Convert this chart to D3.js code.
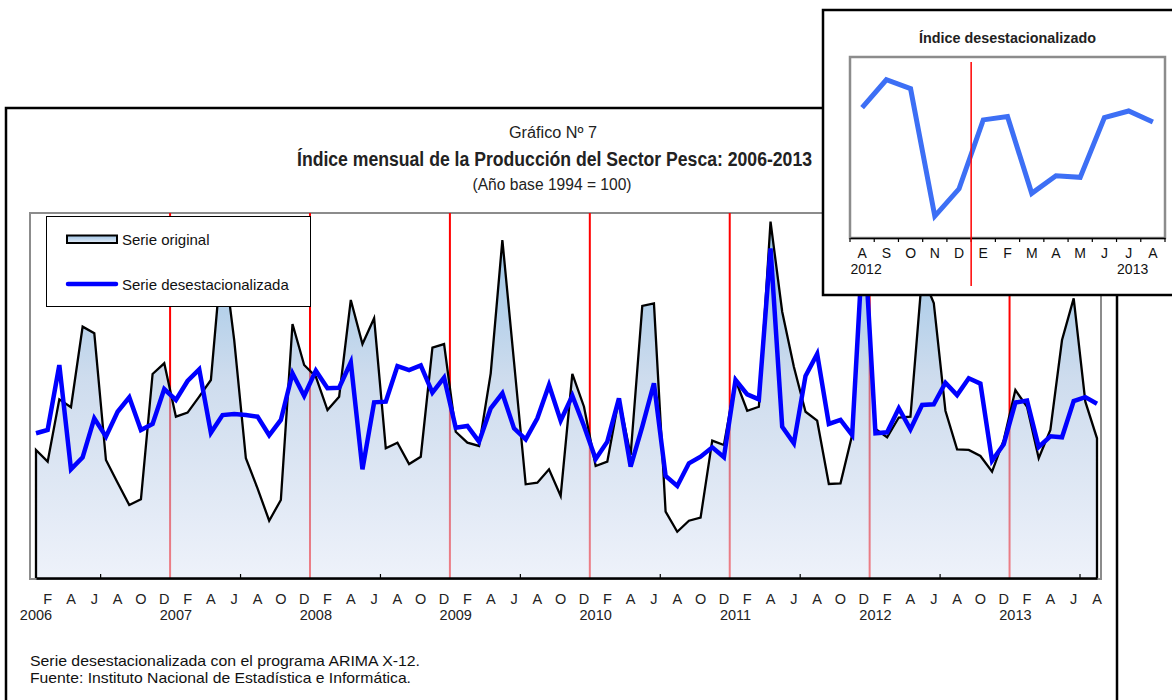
<!DOCTYPE html>
<html><head><meta charset="utf-8">
<script src="https://cdn.jsdelivr.net/npm/d3@7"></script>
<style>
html,body{margin:0;padding:0;background:#fff;}
svg{display:block;}
.narrow{font-family:"Liberation Sans Narrow","Arial Narrow","Liberation Sans",Arial,sans-serif;}
.sans{font-family:"Liberation Sans",Arial,sans-serif;}
</style>
</head><body>
<svg id="chart" width="1172" height="700"></svg>
<script>
// ---- data ----
const years = [2006, 2007, 2008, 2009, 2010, 2011, 2012, 2013];
const monthLetters = ["E","F","M","A","M","J","J","A","S","O","N","D"];
const serieOriginal = [
  140.3,127.5,195.8,187.1,275.4,268.2,129.3,104.4,80.0,86.2,223.6,235.3,
  176.8,181.2,198.7,217.0,362.7,260.8,131.2,98.3,62.8,85.5,278.4,233.4,
  220.6,184.1,198.7,304.7,256.4,284.6,142.1,148.3,124.9,132.9,252.4,256.4,
  160.3,148.3,144.7,224.3,370.4,236.7,102.7,104.4,119.1,89.9,223.6,187.7,
  122.7,127.5,196.9,134.8,298.1,301.0,72.7,50.7,62.8,66.1,150.5,145.8,
  217.0,183.3,187.7,390.5,291.8,231.6,182.2,172.4,103.0,103.8,156.7,390.0,
  163.3,154.2,175.9,176.8,332.0,301.4,183.3,141.0,140.3,133.7,116.5,151.2,
  206.0,187.7,131.2,162.2,260.8,306.5,193.2,153.1
];
const serieDesest = [
  158.6,162.2,233.4,119.1,132.3,175.0,154.9,182.2,198.0,162.2,168.8,207.1,
  195.1,215.9,228.7,159.2,178.6,179.7,178.6,176.8,156.4,173.2,224.3,199.5,
  227.2,207.9,208.5,236.4,119.1,192.5,193.2,232.3,227.9,233.1,203.1,219.5,
  164.7,166.6,149.4,186.0,202.4,164.0,152.0,175.0,211.5,172.4,199.8,166.6,
  130.4,149.4,196.9,122.0,165.8,213.4,111.8,100.8,125.7,132.9,143.2,132.3,
  217.0,201.3,195.8,361.3,165.8,147.6,221.4,245.5,168.8,173.2,156.7,383.6,
  158.6,159.7,186.0,163.0,189.6,190.4,214.0,200.4,218.9,213.0,128.5,146.6,
  192.3,194.5,143.6,155.3,154.2,193.9,198.2,190.9
];
const insetLabels = ["A","S","O","N","D","E","F","M","A","M","J","J","A"];
const insetYears = ["2012","2013"];
const insetStart = 79; // Aug 2012

// ---- main chart ----
const svg = d3.select("#chart");
const defs = svg.append("defs");
const grad = defs.append("linearGradient").attr("id","areaGrad")
  .attr("gradientUnits","userSpaceOnUse").attr("x1",0).attr("x2",0).attr("y1",213).attr("y2",578);
grad.append("stop").attr("offset","0").attr("stop-color","#3c8fd0");
grad.append("stop").attr("offset","0.45").attr("stop-color","#a5bfdf");
grad.append("stop").attr("offset","1").attr("stop-color","#e0e7f6");
const grad2 = defs.append("linearGradient").attr("id","legGrad").attr("x1",0).attr("x2",0).attr("y1",0).attr("y2",1);
grad2.append("stop").attr("offset","0").attr("stop-color","#9fc3e4");
grad2.append("stop").attr("offset","1").attr("stop-color","#e4ecf7");

// outer frame
svg.append("rect").attr("x",6).attr("y",108).attr("width",1111).attr("height",620)
  .attr("fill","#fff").attr("stroke","#000").attr("stroke-width",2.5);

// titles
svg.append("text").attr("class","narrow").attr("x",553).attr("y",138).attr("text-anchor","middle")
  .attr("font-size",16).attr("fill","#222").attr("textLength",88).attr("lengthAdjust","spacingAndGlyphs")
  .text("Gráfico Nº 7");
svg.append("text").attr("class","narrow").attr("x",554.5).attr("y",166).attr("text-anchor","middle")
  .attr("font-size",20).attr("font-weight","bold").attr("fill","#222").attr("textLength",515).attr("lengthAdjust","spacingAndGlyphs")
  .text("Índice mensual de la Producción del Sector Pesca: 2006-2013");
svg.append("text").attr("class","narrow").attr("x",552).attr("y",190).attr("text-anchor","middle")
  .attr("font-size",16).attr("fill","#222").attr("textLength",159).attr("lengthAdjust","spacingAndGlyphs")
  .text("(Año base 1994 = 100)");

const x = d3.scaleLinear().domain([0, serieOriginal.length - 1]).range([36, 1097]);
const y = d3.scaleLinear().domain([0, 400]).range([578, 213]);

// plot frame
svg.append("rect").attr("x",30).attr("y",213).attr("width",1071).attr("height",366)
  .attr("fill","#fff").attr("stroke","#8c8c8c").attr("stroke-width",2);

// red year separators (between Dec and Jan)
const sepIdx = d3.range(11.5, serieOriginal.length - 1, 12);
svg.append("g").selectAll("line").data(sepIdx).join("line")
  .attr("x1",d=>x(d)).attr("x2",d=>x(d)).attr("y1",y(400)).attr("y2",y(0))
  .attr("stroke","#ff0000").attr("stroke-width",2);

// area
const area = d3.area().x((d,i)=>x(i)).y0(y(0)).y1(d=>y(d));
svg.append("path").datum(serieOriginal).attr("d",area)
  .attr("fill","url(#areaGrad)").attr("fill-opacity",0.55);

// original outline incl. vertical edges
const outlinePts = [[0,0]].concat(serieOriginal.map((d,i)=>[i,d])).concat([[serieOriginal.length-1,0]]);
svg.append("path").datum(outlinePts)
  .attr("d", d3.line().x(d=>x(d[0])).y(d=>y(d[1])))
  .attr("fill","none").attr("stroke","#000").attr("stroke-width",2.3).attr("stroke-linejoin","miter");

// desestacionalizada
svg.append("path").datum(serieDesest)
  .attr("d", d3.line().x((d,i)=>x(i)).y(d=>y(d)))
  .attr("fill","none").attr("stroke","#0000ff").attr("stroke-width",4.5).attr("stroke-linejoin","miter");

// x axis
const xAxis = d3.axisBottom(x).tickValues(d3.range(5.5, serieOriginal.length, 12))
  .tickSize(-4).tickSizeOuter(0).tickFormat("");
const gx = svg.append("g").attr("transform",`translate(0,${y(0)})`).call(xAxis);
gx.select(".domain").attr("stroke","#000").attr("stroke-width",2.5);
gx.selectAll(".tick line").attr("stroke","#000").attr("stroke-width",1.2);

// month labels (Feb, Apr, Jun, Aug, Oct, Dec)
const monthIdx = d3.range(1, serieOriginal.length, 2);
svg.append("g").selectAll("text").data(monthIdx).join("text")
  .attr("class","narrow").attr("x",d=>x(d)).attr("y",604).attr("text-anchor","middle")
  .attr("font-size",14.5).attr("fill","#222").text(d=>monthLetters[d % 12]);
svg.append("g").selectAll("text").data(years).join("text")
  .attr("class","narrow").attr("x",(d,i)=>x(i*12)).attr("y",620).attr("text-anchor","middle")
  .attr("font-size",14.5).attr("fill","#222").text(d=>d);

// legend
const leg = svg.append("g");
leg.append("rect").attr("x",46.5).attr("y",216.5).attr("width",264).attr("height",90)
  .attr("fill","#fff").attr("stroke","#000").attr("stroke-width",1);
leg.append("rect").attr("x",67).attr("y",235.5).attr("width",50).attr("height",7.5)
  .attr("fill","url(#legGrad)").attr("stroke","#000").attr("stroke-width",2);
leg.append("text").attr("class","sans").attr("x",122).attr("y",244.5).attr("font-size",15).attr("fill","#111").text("Serie original");
leg.append("line").attr("x1",68).attr("x2",116).attr("y1",284).attr("y2",284)
  .attr("stroke","#0000ff").attr("stroke-width",4.5).attr("stroke-linecap","round");
leg.append("text").attr("class","sans").attr("x",122).attr("y",289.5).attr("font-size",15).attr("fill","#111").text("Serie desestacionalizada");

// footnotes
svg.append("text").attr("class","sans").attr("x",30).attr("y",666).attr("font-size",15).attr("fill","#111")
  .attr("textLength",390).attr("lengthAdjust","spacingAndGlyphs")
  .text("Serie desestacionalizada con el programa ARIMA X-12.");
svg.append("text").attr("class","sans").attr("x",30).attr("y",683).attr("font-size",15).attr("fill","#111")
  .attr("textLength",381).attr("lengthAdjust","spacingAndGlyphs")
  .text("Fuente: Instituto Nacional de Estadística e Informática.");

// ---- inset ----
const ins = svg.append("g");
ins.append("rect").attr("x",823).attr("y",10).attr("width",360).attr("height",285)
  .attr("fill","#fff").attr("stroke","#000").attr("stroke-width",2.5);
ins.append("text").attr("class","narrow").attr("x",1007.5).attr("y",43).attr("text-anchor","middle")
  .attr("font-size",15).attr("font-weight","bold").attr("fill","#222")
  .attr("textLength",177).attr("lengthAdjust","spacingAndGlyphs").text("Índice desestacionalizado");
const insData = serieDesest.slice(insetStart, insetStart + insetLabels.length);
const xi = d3.scaleBand().domain(d3.range(insetLabels.length)).range([850,1165]);
const yi = d3.scaleLinear().domain([114, 234]).range([238, 57]);
ins.append("rect").attr("x",850).attr("y",57).attr("width",315).attr("height",181)
  .attr("fill","#fff").attr("stroke","#8c8c8c").attr("stroke-width",2.5);
const ixAxis = d3.axisBottom(xi).tickSize(0).tickFormat("");
const gi = ins.append("g").attr("transform","translate(0,238)").call(ixAxis);
gi.select(".domain").attr("stroke","#000").attr("stroke-width",1.5);
ins.append("g").selectAll("line").data(d3.range(insetLabels.length + 1)).join("line")
  .attr("x1",d=>850 + d*xi.step()).attr("x2",d=>850 + d*xi.step())
  .attr("y1",238).attr("y2",242).attr("stroke","#000").attr("stroke-width",1.2);
ins.append("g").selectAll("text").data(insetLabels).join("text")
  .attr("class","sans").attr("x",(d,i)=>xi(i)+xi.bandwidth()/2).attr("y",258).attr("text-anchor","middle")
  .attr("font-size",14).attr("fill","#111").text(d=>d);
ins.append("text").attr("class","sans").attr("x",xi(0)+xi.bandwidth()/2+4).attr("y",274).attr("text-anchor","middle")
  .attr("font-size",14).attr("fill","#111").text(insetYears[0]);
ins.append("text").attr("class","sans").attr("x",xi(11)+xi.bandwidth()/2+4).attr("y",274).attr("text-anchor","middle")
  .attr("font-size",14).attr("fill","#111").text(insetYears[1]);
ins.append("path").datum(insData)
  .attr("d", d3.line().x((d,i)=>xi(i)+xi.bandwidth()/2).y(d=>yi(d)))
  .attr("fill","none").attr("stroke","#3d6ff5").attr("stroke-width",5).attr("stroke-linejoin","miter");
// red separator Dec/Jan
const sepI = insetLabels.indexOf("E");
ins.append("line").attr("x1",xi(sepI)).attr("x2",xi(sepI)).attr("y1",62).attr("y2",286)
  .attr("stroke","#ff0000").attr("stroke-width",1.5);
</script>
</body></html>
